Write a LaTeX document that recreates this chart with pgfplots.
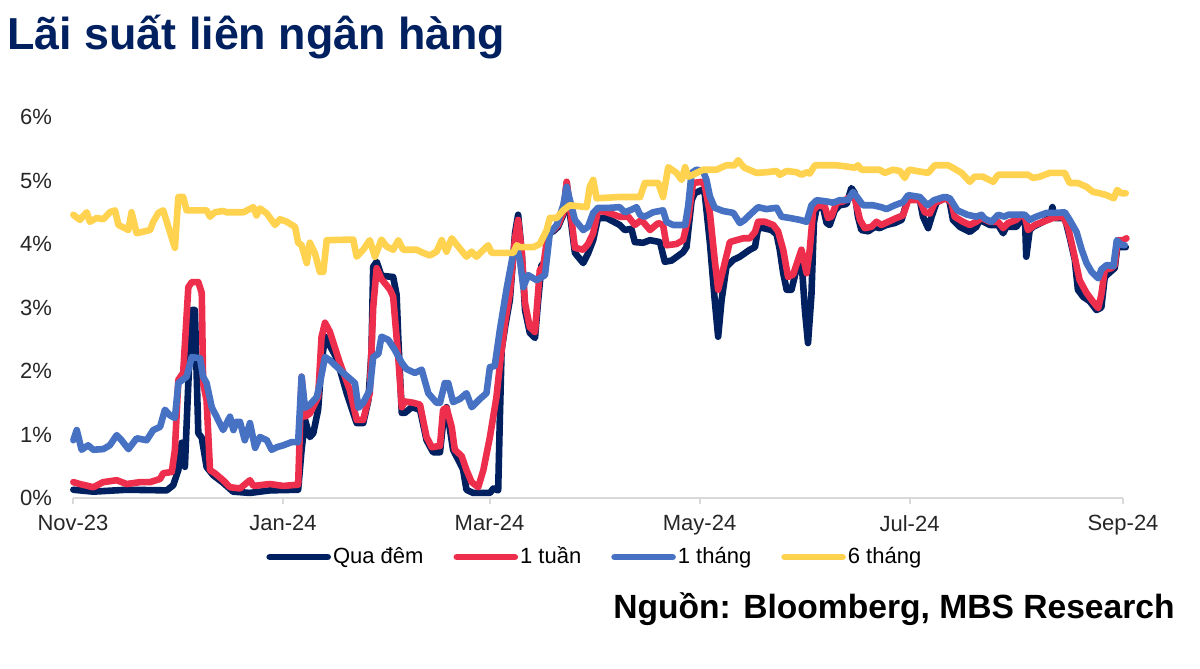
\documentclass[border=0pt]{standalone}
\usepackage{fontspec}
\setmainfont{Liberation Sans}
\usepackage{pgfplots}
\pgfplotsset{compat=1.18}

\definecolor{mbsnavy}{RGB}{0,32,96}
\definecolor{mbsred}{RGB}{237,46,76}
\definecolor{mbsblue}{RGB}{71,114,196}
\definecolor{mbsyellow}{RGB}{255,210,80}
\definecolor{axisgray}{RGB}{217,217,217}

\begin{document}
\begin{tikzpicture}
\path[use as bounding box] (0,0) rectangle (600pt,334.5pt);

% title and source
\node[anchor=base west, inner sep=0pt, text=mbsnavy,
      font=\bfseries\fontsize{22.4}{26}\selectfont] at (3.5pt,309.5pt) {Lãi suất liên ngân hàng};
\node[anchor=base east, inner sep=0pt, text=black,
      font=\bfseries\fontsize{16.8}{20}\selectfont] at (587.5pt,25pt) {Nguồn: Bloomberg, MBS Research};

\begin{axis}[
  at={(36.5pt,85.5pt)}, anchor=south west,
  scale only axis, width=525pt, height=190.5pt,
  xmin=0, xmax=305, ymin=0, ymax=6,
  clip=false,
  axis lines*=left,
  x axis line style={axisgray, line width=1pt},
  y axis line style={draw=none},
  xtick={0,61,121,182,243,305},
  xticklabels={Nov-23,Jan-24,Mar-24,May-24,Jul-24,Sep-24},
  ytick={0,1,2,3,4,5,6},
  yticklabels={0\%,1\%,2\%,3\%,4\%,5\%,6\%},
  tick align=outside,
  major tick length=3pt,
  xtick style={axisgray, line width=1pt},
  ytick style={draw=none},
  tick label style={font=\fontsize{11}{13}\selectfont, text=black!85},
  yticklabel style={xshift=-4pt},
  xticklabel style={yshift=-2pt},
  every axis plot/.append style={line width=3.3pt, line join=round, line cap=round},
  legend columns=4,
  legend cell align=left,
  legend style={at={(0.497,-0.155)}, anchor=center, draw=none, fill=none,
    font=\fontsize{11}{13}\selectfont, inner sep=0pt,
    nodes={inner sep=1pt, text height=9pt, text depth=2.5pt},
    /tikz/every odd column/.append style={column sep=0pt},
    /tikz/every even column/.append style={column sep=14pt}},
  legend image code/.code={\draw[#1, line cap=round] (0pt,0pt) -- (29pt,0pt);},
]

% Qua dem
\addplot[mbsnavy] coordinates {
(0.1,0.13) (5.9,0.10) (15.6,0.13) (27.2,0.12) (29.1,0.20) (30.6,0.44) (31.6,0.87) (32.5,0.49) (33.5,1.81) (34.5,2.96) (35.4,2.96) (36.4,1.02) (37.4,0.95) (38.8,0.49) (40.7,0.36) (43.6,0.24) (46.5,0.10) (51.4,0.08) (57.2,0.12) (65.4,0.13) (66.4,0.76) (67.4,1.23) (68.8,0.96) (69.8,1.02) (71.2,1.39) (72.2,2.13) (73.2,2.54) (74.6,2.40) (76.6,2.20) (79.5,1.65) (81.4,1.34) (82.4,1.18) (84.3,1.18) (85.8,1.54) (86.7,2.30) (87.2,3.64) (88.2,3.72) (89.6,3.50) (93.0,3.48) (94.0,3.20) (94.5,2.50) (95.5,1.34) (96.4,1.34) (98.4,1.43) (100.8,1.39) (102.7,0.91) (104.6,0.72) (106.6,0.72) (107.5,1.18) (108.5,1.43) (110.4,0.76) (112.4,0.55) (113.3,0.45) (114.3,0.13) (116.2,0.08) (121.1,0.08) (122.1,0.15) (123.5,0.12) (124.0,1.28) (124.5,2.33) (125.5,2.69) (126.9,3.12) (128.4,4.17) (129.3,4.46) (130.3,3.90) (131.3,2.96) (132.7,2.60) (134.2,2.52) (135.1,3.10) (136.1,3.67) (137.1,3.70) (138.0,4.17) (139.5,4.20) (140.9,4.27) (142.4,4.46) (143.4,4.96) (144.3,4.50) (145.8,3.86) (148.2,3.70) (149.6,3.85) (151.1,4.06) (152.5,4.41) (155.0,4.41) (158.8,4.30) (160.3,4.22) (162.2,4.24) (163.2,4.03) (165.6,4.02) (167.6,4.06) (170.5,4.03) (171.9,3.72) (173.9,3.74) (177.2,3.87) (178.2,3.95) (179.7,4.69) (180.6,4.80) (182.6,4.85) (183.5,4.80) (185.0,4.02) (186.4,3.12) (187.4,2.54) (188.4,3.12) (189.8,3.64) (191.8,3.75) (193.7,3.80) (196.6,3.91) (198.1,3.95) (199.0,4.25) (200.5,4.25) (202.9,4.22) (204.4,4.15) (205.3,3.91) (206.3,3.54) (207.3,3.28) (208.7,3.28) (210.6,3.70) (211.6,3.75) (212.6,2.96) (213.5,2.44) (214.5,3.20) (215.2,4.33) (216.0,4.57) (217.9,4.57) (218.9,4.33) (219.8,4.30) (221.3,4.53) (222.7,4.61) (224.7,4.63) (226.1,4.88) (227.1,4.80) (228.0,4.43) (229.0,4.22) (231.0,4.20) (232.9,4.27) (234.3,4.25) (236.3,4.30) (238.7,4.33) (240.7,4.38) (241.6,4.55) (242.6,4.72) (246.0,4.69) (246.9,4.43) (248.4,4.25) (249.4,4.43) (250.8,4.65) (253.7,4.74) (254.7,4.65) (255.6,4.38) (257.6,4.27) (260.5,4.19) (262.4,4.27) (263.4,4.38) (266.3,4.30) (268.7,4.30) (270.2,4.17) (271.1,4.27) (274.0,4.27) (275.0,4.35) (276.5,4.43) (276.9,3.80) (277.9,4.22) (278.9,4.27) (281.8,4.35) (283.7,4.41) (284.5,4.58) (285.2,4.41) (288.1,4.41) (289.5,4.11) (291.0,3.75) (291.9,3.28) (293.4,3.17) (295.3,3.10) (297.3,2.96) (298.7,3.00) (299.7,3.48) (301.1,3.55) (302.6,3.62) (303.5,4.02) (304.5,3.95) (305.8,3.95)
};
\addlegendentry{Qua đêm}

% 1 tuan
\addplot[mbsred] coordinates {
(0.1,0.25) (2.0,0.22) (5.9,0.17) (8.8,0.25) (12.7,0.28) (15.6,0.22) (19.5,0.25) (22.4,0.25) (25.3,0.30) (26.2,0.39) (28.7,0.41) (29.6,0.76) (30.6,1.86) (32.0,1.97) (33.5,3.32) (34.5,3.40) (36.4,3.40) (37.4,3.23) (37.8,1.81) (38.8,1.54) (39.8,0.44) (41.2,0.39) (43.6,0.28) (45.6,0.17) (48.5,0.15) (51.4,0.28) (52.4,0.19) (57.2,0.22) (61.1,0.19) (65.4,0.21) (66.4,1.91) (67.4,1.28) (68.8,1.33) (71.2,1.59) (72.2,2.54) (73.2,2.76) (74.6,2.62) (77.5,2.13) (80.4,1.70) (82.4,1.23) (84.3,1.23) (86.2,1.65) (87.2,3.00) (88.2,3.62) (89.6,3.45) (92.1,3.28) (93.0,3.17) (94.5,2.20) (95.5,1.43) (96.4,1.52) (98.8,1.50) (100.8,1.47) (102.7,0.96) (104.2,0.80) (106.6,0.82) (107.5,1.39) (108.5,1.42) (110.0,1.12) (110.9,0.76) (112.9,0.66) (114.3,0.44) (115.8,0.25) (117.7,0.17) (119.2,0.44) (121.1,0.96) (123.0,1.59) (124.0,2.10) (125.5,2.76) (126.9,3.23) (128.4,4.09) (129.3,4.38) (130.3,3.90) (131.3,3.07) (132.7,2.69) (134.2,2.61) (135.6,3.59) (136.6,3.65) (138.0,4.19) (139.5,4.22) (140.9,4.30) (142.4,4.49) (143.4,4.98) (144.3,4.60) (145.8,3.94) (148.2,3.91) (149.6,4.00) (151.1,4.17) (152.5,4.53) (155.0,4.50) (158.8,4.43) (161.3,4.43) (163.2,4.30) (165.1,4.38) (167.6,4.22) (170.0,4.33) (171.4,4.30) (172.4,3.98) (175.3,4.00) (177.2,4.06) (178.7,4.40) (180.1,4.96) (182.6,4.98) (183.5,4.92) (185.0,4.49) (186.4,3.75) (187.4,3.28) (188.8,3.59) (190.8,4.03) (192.7,4.06) (194.7,4.09) (196.6,4.09) (198.1,4.19) (199.0,4.35) (201.0,4.35) (203.4,4.30) (204.8,4.20) (206.3,3.91) (207.7,3.48) (209.2,3.52) (210.6,3.75) (211.6,3.91) (213.1,3.54) (214.0,3.91) (215.0,4.53) (216.4,4.61) (218.4,4.59) (219.3,4.41) (220.3,4.43) (221.8,4.65) (223.7,4.67) (225.6,4.74) (227.1,4.72) (228.6,4.38) (230.0,4.25) (231.9,4.27) (233.4,4.35) (234.8,4.30) (236.8,4.35) (239.2,4.41) (241.1,4.45) (242.6,4.69) (246.0,4.69) (247.4,4.50) (248.9,4.48) (250.3,4.65) (253.7,4.72) (255.2,4.65) (256.1,4.43) (258.5,4.35) (260.5,4.30) (262.4,4.35) (263.9,4.41) (266.3,4.35) (268.7,4.35) (270.2,4.25) (271.6,4.33) (274.0,4.38) (275.5,4.46) (276.5,4.43) (277.4,4.22) (279.4,4.30) (281.8,4.35) (284.7,4.41) (287.6,4.43) (289.0,4.27) (290.5,3.91) (292.4,3.43) (294.4,3.23) (296.3,3.09) (297.8,2.99) (298.7,3.20) (299.7,3.59) (301.6,3.62) (302.6,3.67) (303.5,4.06) (305.0,4.06) (306.0,4.09)
};
\addlegendentry{1 tuần}

% 1 thang
\addplot[mbsblue] coordinates {
(0.1,0.91) (1.1,1.07) (2.5,0.76) (4.4,0.83) (5.9,0.76) (8.8,0.77) (10.7,0.83) (12.7,0.99) (14.1,0.91) (16.1,0.77) (18.5,0.94) (21.4,0.91) (23.3,1.07) (25.3,1.12) (26.7,1.39) (28.2,1.30) (29.6,1.26) (30.6,1.81) (33.0,1.91) (34.5,2.22) (36.9,2.20) (37.8,1.91) (38.8,1.81) (40.3,1.43) (41.7,1.28) (43.6,1.07) (45.6,1.28) (46.6,1.07) (47.5,1.20) (48.5,1.20) (49.9,0.91) (51.4,1.18) (52.9,0.79) (54.3,0.96) (56.3,0.91) (57.7,0.76) (59.2,0.80) (61.1,0.83) (63.5,0.88) (65.4,0.88) (66.4,1.91) (67.4,1.42) (68.8,1.47) (70.8,1.59) (71.7,1.80) (73.2,2.22) (74.6,2.17) (78.5,1.97) (81.9,1.81) (82.9,1.42) (84.3,1.50) (86.2,1.70) (87.2,2.22) (88.7,2.27) (89.6,2.54) (91.6,2.49) (93.5,2.33) (95.5,2.13) (96.9,2.03) (99.3,1.97) (101.3,2.02) (103.2,1.65) (105.6,1.50) (106.6,1.50) (108.0,1.81) (109.0,1.81) (110.4,1.51) (112.4,1.56) (114.3,1.65) (115.8,1.43) (118.2,1.56) (120.1,1.65) (121.1,2.06) (122.5,2.08) (124.0,2.65) (125.9,3.28) (127.9,3.86) (128.9,3.95) (129.8,3.75) (130.8,3.32) (132.2,3.51) (134.7,3.43) (137.1,3.51) (138.5,4.17) (140.5,4.30) (142.4,4.61) (143.4,4.90) (144.3,4.70) (145.8,4.38) (148.2,4.22) (149.6,4.27) (151.1,4.49) (152.5,4.57) (155.9,4.57) (158.8,4.58) (160.3,4.50) (162.2,4.54) (163.7,4.58) (164.7,4.46) (166.1,4.43) (168.5,4.50) (171.4,4.53) (172.4,4.35) (174.3,4.30) (177.8,4.30) (178.7,4.60) (179.7,5.12) (181.1,5.17) (183.0,5.15) (184.0,5.01) (185.0,4.75) (186.4,4.57) (188.8,4.52) (191.8,4.49) (193.7,4.33) (195.1,4.38) (196.6,4.46) (199.0,4.58) (201.4,4.55) (204.4,4.57) (205.8,4.43) (208.2,4.41) (211.1,4.38) (213.1,4.35) (214.5,4.61) (216.0,4.69) (218.9,4.67) (220.8,4.65) (222.7,4.69) (225.1,4.69) (226.6,4.82) (228.0,4.72) (229.5,4.61) (232.4,4.61) (234.8,4.58) (236.3,4.55) (238.7,4.61) (241.1,4.66) (242.6,4.77) (246.0,4.74) (248.2,4.61) (250.1,4.69) (253.0,4.74) (254.7,4.72) (256.9,4.53) (259.8,4.46) (262.4,4.43) (263.9,4.46) (264.8,4.40) (266.8,4.35) (268.7,4.46) (270.6,4.43) (271.6,4.46) (276.5,4.46) (277.9,4.38) (279.8,4.43) (282.8,4.49) (285.7,4.49) (288.1,4.50) (289.5,4.38) (291.5,4.19) (293.0,3.91) (294.4,3.70) (295.9,3.56) (297.8,3.46) (298.7,3.60) (300.3,3.67) (302.2,3.65) (303.2,4.06) (304.3,3.99) (305.5,3.98)
};
\addlegendentry{1 tháng}

% 6 thang
\addplot[mbsyellow] coordinates {
(0.1,4.46) (2.0,4.38) (4.0,4.50) (4.9,4.35) (6.9,4.41) (8.8,4.39) (10.7,4.50) (12.2,4.53) (13.2,4.30) (16.1,4.22) (17.0,4.50) (18.5,4.17) (22.4,4.22) (23.3,4.35) (24.8,4.49) (26.2,4.53) (29.6,3.94) (30.6,4.74) (32.0,4.74) (33.0,4.53) (38.8,4.53) (39.8,4.43) (41.2,4.50) (43.6,4.52) (44.6,4.50) (49.5,4.50) (52.4,4.58) (53.3,4.45) (54.3,4.56) (56.3,4.48) (58.7,4.30) (60.1,4.39) (62.1,4.35) (64.5,4.27) (65.4,4.02) (66.4,3.98) (67.9,3.70) (68.8,4.02) (70.3,3.85) (71.7,3.56) (72.7,3.56) (73.7,4.06) (81.4,4.07) (82.4,3.80) (84.3,3.91) (86.2,4.06) (87.7,3.80) (89.6,4.07) (91.1,3.96) (93.0,3.91) (94.5,4.06) (95.9,3.91) (99.8,3.91) (101.7,3.86) (103.7,3.82) (105.6,3.88) (107.1,4.06) (108.5,3.88) (110.0,4.09) (111.9,3.96) (114.3,3.80) (115.8,3.88) (117.2,3.80) (118.7,3.88) (120.6,3.98) (121.6,3.86) (127.9,3.86) (128.9,3.98) (129.8,3.95) (133.7,3.95) (135.6,4.00) (137.6,4.22) (138.5,4.41) (140.5,4.41) (142.4,4.53) (144.3,4.61) (149.2,4.58) (150.1,4.90) (151.1,5.01) (152.1,4.72) (158.8,4.74) (164.7,4.74) (166.1,4.96) (170.0,4.96) (171.4,4.74) (172.9,5.21) (175.3,5.12) (176.8,5.01) (177.8,5.21) (178.7,5.06) (180.1,5.09) (183.0,5.17) (186.9,5.17) (189.8,5.24) (192.2,5.24) (193.2,5.32) (194.7,5.22) (195.1,5.20) (198.5,5.12) (201.4,5.13) (204.4,5.15) (205.3,5.09) (207.3,5.15) (210.2,5.13) (211.6,5.09) (213.1,5.13) (214.0,5.11) (215.5,5.24) (221.8,5.24) (224.7,5.22) (227.1,5.20) (228.0,5.24) (229.0,5.17) (234.3,5.17) (235.8,5.12) (238.2,5.17) (240.2,5.15) (241.6,5.04) (242.6,5.15) (243.1,5.17) (245.0,5.15) (248.4,5.12) (250.3,5.24) (254.2,5.24) (255.6,5.20) (258.1,5.12) (260.5,4.98) (261.9,5.06) (264.3,5.06) (267.3,4.98) (268.7,5.09) (277.4,5.09) (278.9,5.04) (280.8,5.06) (283.7,5.12) (288.1,5.12) (289.5,4.96) (291.9,4.96) (294.4,4.90) (296.3,4.82) (298.2,4.80) (300.2,4.77) (302.3,4.72) (303.3,4.85) (304.5,4.80) (305.8,4.80)
};
\addlegendentry{6 tháng}

\end{axis}
\end{tikzpicture}
\end{document}
